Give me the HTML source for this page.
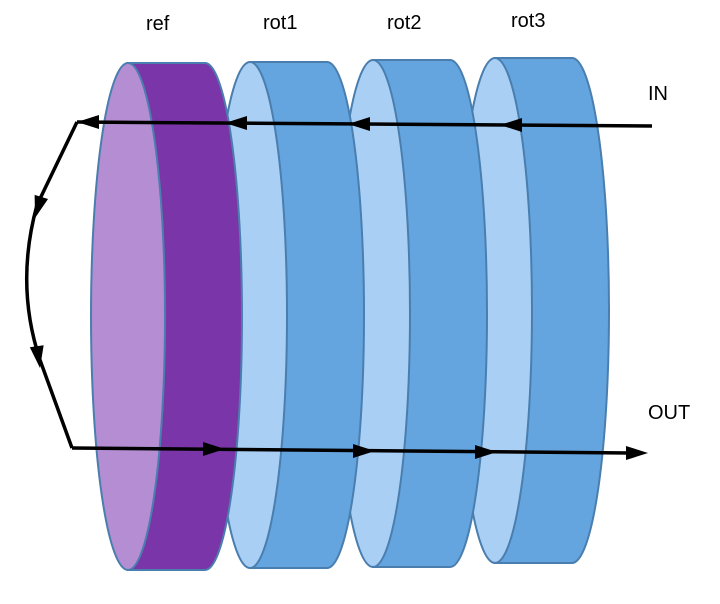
<!DOCTYPE html>
<html><head><meta charset="utf-8"><style>
html,body{margin:0;padding:0;background:#fff;}
svg{display:block;}
text{font-family:"Liberation Sans","DejaVu Sans",sans-serif;font-size:20px;fill:#000;}
</style></head><body>
<svg id="d" width="720" height="604" viewBox="0 0 720 604">
<g id="disks"></g>
<g id="labels">
<text x="146" y="30">ref</text>
<text x="263" y="29">rot1</text>
<text x="387" y="29">rot2</text>
<text x="511" y="27">rot3</text>
<text x="648" y="100">IN</text>
<text x="648" y="419">OUT</text>
</g>
<g id="arrows" stroke="#000" stroke-width="3.5" fill="none">
<path d="M652,126 L77,122"/>
<path d="M77,122 L37,205 Q15,285 40,360 L72,448"/>
<path d="M72,448 L630,453"/>
</g>
<g id="heads" fill="#000"></g>
</svg>
<script>
const names=['rot3','rot2','rot1','ref'];
const faceX=[495,373,250,128];
const tops=[58,60,62,63];
const bots=[563,567,568,570];
const rx=37, depth=77;
const g=document.getElementById('disks');
const NS='http://www.w3.org/2000/svg';
for(let i=0;i<names.length;i++){
  const fc=faceX[i], bc=fc+depth, t=tops[i], b=bots[i], ry=(b-t)/2;
  const dark=names[i]==='ref'?'#7a36a8':'#64a5e0';
  const light=names[i]==='ref'?'#b48dd2':'#a9cff4';
  const grp=document.createElementNS(NS,'g');
  
  
  const body=document.createElementNS(NS,'path');
  body.setAttribute('d',`M${fc},${t} L${bc},${t} A${rx},${ry} 0 0 1 ${bc},${b} L${fc},${b} Z`);
  body.setAttribute('fill',dark);body.setAttribute('stroke','#4a7eae');body.setAttribute('stroke-width','2');
  
  
  const face=document.createElementNS(NS,'ellipse');
  face.setAttribute('cx',fc);face.setAttribute('cy',t+ry);face.setAttribute('rx',rx);face.setAttribute('ry',ry);
  face.setAttribute('fill',light);face.setAttribute('stroke','#4a7eae');face.setAttribute('stroke-width','2');
  
  
  grp.appendChild(body);grp.appendChild(face);g.appendChild(grp);
}
// arrowheads: [tipX, tipY, dirX, dirY]
const heads=[[77,122,-1,0],[225,123,-1,0],[348,124,-1,0],[500,125,-1,0],
 [35,218,-0.3,1],[40,368,0.15,1],
 [225,449,1,0],[375,451,1,0],[497,452,1,0],[648,453,1,0]];
const hg=document.getElementById('heads');
heads.forEach((h,k)=>{
  const [x,y,dx0,dy0]=h;const n=Math.hypot(dx0,dy0),dx=dx0/n,dy=dy0/n;
  const L=22,W=7;const bx=x-dx*L,by=y-dy*L;
  const p=document.createElementNS(NS,'polygon');
  p.setAttribute('points',`${x},${y} ${bx-dy*W},${by+dx*W} ${bx+dy*W},${by-dx*W}`);
  
  
  hg.appendChild(p);
});
</script>
</body></html>
